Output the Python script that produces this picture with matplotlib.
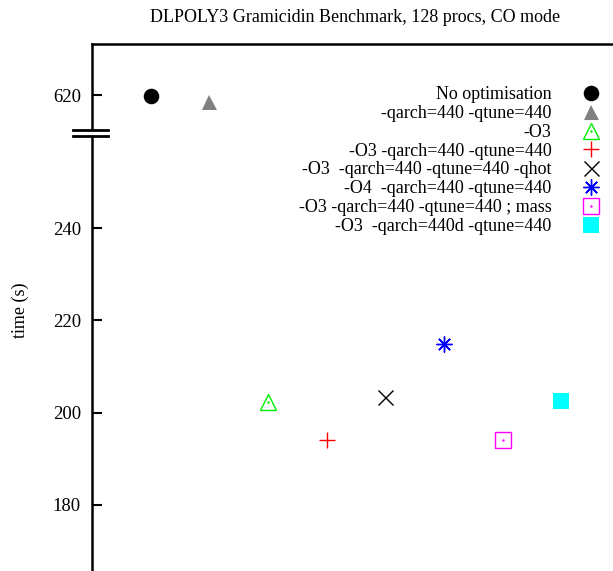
import matplotlib
matplotlib.use('Agg')
import matplotlib.pyplot as plt
from matplotlib.legend_handler import HandlerTuple

plt.rcParams['font.family'] = ['Liberation Serif', 'DejaVu Serif']

labels = ['No optimisation',
          '-qarch=440 -qtune=440',
          '-O3',
          '-O3 -qarch=440 -qtune=440',
          '-O3  -qarch=440 -qtune=440 -qhot',
          '-O4  -qarch=440 -qtune=440',
          '-O3 -qarch=440 -qtune=440 ; mass',
          '-O3  -qarch=440d -qtune=440']
xpos = [1, 2, 3, 4, 5, 6, 7, 8]
times = [619.8, 618.5, 202.3, 194.1, 203.3, 214.8, 194.1, 202.6]

# broken axis: values above the break are shifted down
break_at = 260.7
offset = 351.1
ytick_vals = [180, 200, 220, 240, 620]


def to_axis(v):
    return v - offset if v > 400 else v


markers = ['o', '^', '^', '+', 'x', (8, 2, 0), 's', 's']
colors = ['black', '#808080', '#00ee00', 'red', 'black', 'blue', '#ff00ff', 'cyan']
filled = [True, True, False, False, False, False, False, True]
sizes = [11.2, 10.8, 12, 11.3, 10.8, 11.5, 11.5, 11.5]
dotted = [False, False, True, False, False, False, True, False]

fig = plt.figure(figsize=(6.13, 5.71), dpi=100)
ax = fig.add_axes([92 / 613, 1 - 597 / 571, 528 / 613, (597 - 44) / 571])

handles = []
for i in range(len(labels)):
    y = to_axis(times[i])
    if filled[i]:
        ln, = ax.plot([xpos[i]], [y], linestyle='none', marker=markers[i], color=colors[i],
                      markersize=sizes[i], markeredgewidth=0)
    else:
        ln, = ax.plot([xpos[i]], [y], linestyle='none', marker=markers[i],
                      markerfacecolor='none', markeredgecolor=colors[i],
                      markersize=sizes[i], markeredgewidth=1.0)
    if dotted[i]:
        dt, = ax.plot([xpos[i]], [y], linestyle='none', marker='.', color=colors[i], markersize=1.5)
        handles.append((ln, dt))
    else:
        handles.append(ln)

ax.set_xlim(0, 9)
ax.set_ylim(160, 280)
ax.set_xticks([])
ax.set_yticks([to_axis(v) for v in ytick_vals])
ax.set_yticklabels([str(v) for v in ytick_vals])
ax.tick_params(axis='y', direction='in', length=7, width=1.5, labelsize=13.5, pad=8)
for s in ['left', 'top', 'right', 'bottom']:
    ax.spines[s].set_linewidth(1.8)

leg = ax.legend(handles, labels, loc='upper right', markerfirst=False, frameon=False,
                fontsize=13, handlelength=1.0, handletextpad=1.68, labelspacing=0.10,
                borderaxespad=0.0, bbox_to_anchor=(1 - 13 / 528, 1 - 35 / 553),
                handler_map={tuple: HandlerTuple(ndivide=1)})

# break marks on the y axis
yb = (break_at - 160) / 120
ax.add_patch(plt.Rectangle((-0.01, yb - 0.005), 0.02, 0.01, transform=ax.transAxes,
                           color='white', clip_on=False, zorder=5))
for d in (-0.0055, 0.0055):
    ax.plot([-19 / 528, 16 / 528], [yb + d] * 2, transform=ax.transAxes,
            color='black', linewidth=2.0, clip_on=False, zorder=6)

fig.text(355 / 613, 1 - 18 / 571, 'DLPOLY3 Gramicidin Benchmark, 128 procs, CO mode',
         ha='center', va='center', fontsize=13)
fig.text(20 / 613, 1 - 310 / 571, 'time (s)', rotation=90, ha='center', va='center', fontsize=13)

fig.savefig('out.png', dpi=100)
